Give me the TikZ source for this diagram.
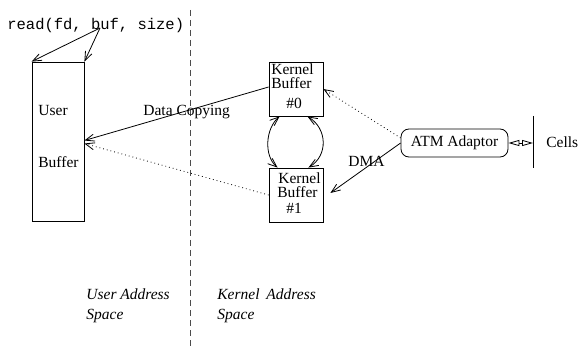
\documentclass[tikz,border=0pt]{standalone}
\usepackage{fontspec}
\setmainfont{Liberation Serif}
\setmonofont{Liberation Mono}
\usetikzlibrary{arrows.meta}
\begin{document}
\begin{tikzpicture}[x=1pt,y=-1pt,
  font=\fontsize{15.5}{17}\selectfont,
  line width=0.8pt,
  box/.style={draw,inner sep=0pt},
  lbl/.style={inner sep=0pt,anchor=base west},
  kb/.style={inner sep=0pt,anchor=base west,font=\fontsize{15.5}{12}\selectfont},
  tip/.style={-{Straight Barb[length=9pt,width=7pt,line width=0.8pt]}},
  tips/.style={{Straight Barb[length=9pt,width=7pt,line width=0.8pt]}-{Straight Barb[length=9pt,width=7pt,line width=0.8pt]}},
  dots/.style={dash pattern=on 0.8pt off 3pt},
  sep/.style={black!70,dash pattern=on 6pt off 4pt}]
\useasboundingbox (0,0) rectangle (579,350);

% separator
\coordinate (dt) at (190,10);
\coordinate (db) at (190,350);
\draw[sep] (dt) -- (db);

% user buffer
\node[box,minimum width=52pt,minimum height=159pt] (ub) at (58,141.5) {};
\node[lbl] (ubt1) at (38,116) {User};
\node[lbl] (ubt2) at (38,168) {Buffer};

% read call
\node[lbl,font=\ttfamily\fontsize{15.5}{17}\selectfont] (rdt) at (7,30) {read(fd, buf, size)};
\coordinate (rd) at (100,28);
\draw[tip] (rd) -- (ub.north west);
\draw[tip] (rd) -- (ub.north east);

% kernel buffers
\node[box,minimum width=54pt,minimum height=54pt] (k0) at (296,89) {};
\node[kb] (k0a) at (271,89) {\shortstack[l]{Kernel\\Buffer}};
\node[lbl] (k0c) at (286,109) {\#0};

\node[box,minimum width=54pt,minimum height=54pt] (k1) at (296,195) {};
\node[kb] (k1a) at (277,198) {\shortstack[l]{\hspace{1pt}Kernel\\Buffer}};
\node[lbl] (k1c) at (286,214) {\#1};

% arcs between kernel buffers
\draw[tips] ([xshift=11pt]k0.south west) .. controls +(-14,12) and +(-14,-12) .. ([xshift=9pt]k1.north west);
\draw[tips] ([xshift=-16pt]k0.south east) .. controls +(20,12) and +(20,-12) .. ([xshift=-15pt]k1.north east);

% ATM adaptor and cells
\node[box,rounded corners=8pt,minimum width=107pt,minimum height=28pt] (atm) at (454.5,143) {ATM Adaptor};
\coordinate (ct) at (533,116);
\coordinate (cb) at (533,168);
\coordinate (cm) at (533,143);
\draw (ct) -- (cb);
\draw[{Triangle[open,length=11pt,width=6pt,line width=0.8pt]}-{Triangle[open,length=11pt,width=6pt,line width=0.8pt]}] (atm.east) -- (cm);
\node[lbl] (cells) at (546,148) {Cells};

% transfers
\draw[tip] ([yshift=2pt]k0.west) -- ([yshift=1pt]ub.east);
\node[lbl] (dc) at (143,116) {Data Copying};
\draw[tip,dots] ([yshift=5pt]atm.west) -- (k0.east);
\draw[tip,dots] (k1.west) -- ([yshift=-2pt]ub.east);
\draw[tip] (atm.west) -- ([xshift=7pt,yshift=2pt]k1.east);
\node[lbl] (dma) at (348,167) {DMA};

% address space labels
\node[lbl,font=\itshape\fontsize{15.5}{17}\selectfont] (ua1) at (86,299) {User Address};
\node[lbl,font=\itshape\fontsize{15.5}{17}\selectfont] (ua2) at (86,319) {Space};
\node[lbl,font=\itshape\fontsize{15.5}{17}\selectfont] (ka1) at (217,299) {Kernel\hspace{3pt} Address};
\node[lbl,font=\itshape\fontsize{15.5}{17}\selectfont] (ka2) at (217,319) {Space};
\end{tikzpicture}
\end{document}
